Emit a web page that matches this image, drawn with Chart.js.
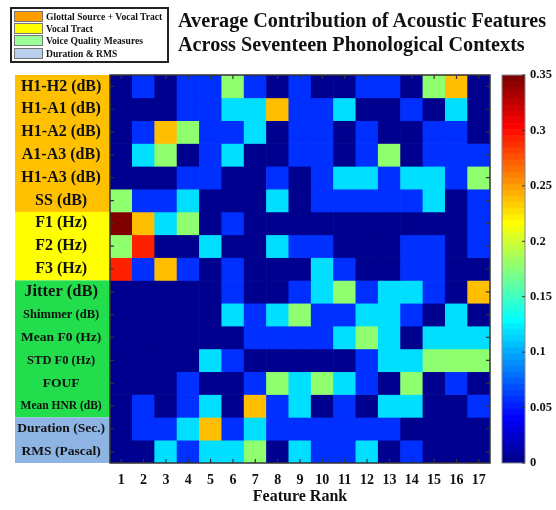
<!DOCTYPE html>
<html lang="en">
<head>
<meta charset="UTF-8">
<title>Average Contribution of Acoustic Features</title>
<script src="https://cdn.jsdelivr.net/npm/chart.js"></script>
<style>
  body { margin: 0; background: #fff; }
  #wrap { position: relative; width: 556px; height: 510px; font-family: "Liberation Serif", "Times New Roman", serif; color: #111; }
  canvas { position: absolute; top: 0; }
  #heat { left: 0; }
  #cbar { left: 490px; }
  #title { position: absolute; left: 178px; top: 8px; font-weight: bold; font-size: 20.2px; line-height: 24px; white-space: nowrap; z-index: 2; }
  #legend { position: absolute; left: 10px; top: 7px; width: 153px; height: 51px; border: 2px solid #222; padding: 1px 0 0 2px; z-index: 2; }
  #legend div { height: 12.4px; display: flex; align-items: center; font-weight: bold; font-size: 9.6px; white-space: nowrap; }
  #legend span { display: inline-block; width: 27px; height: 9px; border: 1px solid #777; margin-right: 3px; }
</style>
</head>
<body>
<div id="wrap">
  <div id="legend"></div>
  <div id="title">Average Contribution of Acoustic Features<br>Across Seventeen Phonological Contexts</div>
  <canvas id="heat" width="556" height="510"></canvas>
  <canvas id="cbar" width="66" height="510"></canvas>
</div>
<script>
// data: how many of the 17 contexts put each feature at each rank
const ranks = ['1','2','3','4','5','6','7','8','9','10','11','12','13','14','15','16','17'];
const features = ['H1-H2 (dB)', 'H1-A1 (dB)', 'H1-A2 (dB)', 'A1-A3 (dB)', 'H1-A3 (dB)', 'SS (dB)',
                  'F1 (Hz)', 'F2 (Hz)', 'F3 (Hz)',
                  'Jitter (dB)', 'Shimmer (dB)', 'Mean F0 (Hz)', 'STD F0 (Hz)', 'FOUF', 'Mean HNR (dB)',
                  'Duration (Sec.)', 'RMS (Pascal)'];
const contexts = 17;

const h1h2     = [0,1,0,1,1,3,1,0,1,0,0,1,1,0,3,4,0];
const h1a1     = [0,0,0,1,1,2,2,4,1,1,2,0,0,1,0,2,0];
const h1a2     = [0,1,4,3,1,1,2,0,1,1,0,1,0,0,1,1,0];
const a1a3     = [0,2,3,0,1,2,0,0,1,1,0,1,3,0,1,1,1];
const h1a3     = [0,0,0,1,1,0,0,1,0,1,2,2,1,2,2,1,3];
const ss       = [3,1,1,2,0,0,0,2,0,1,1,1,1,1,2,0,1];
const f1       = [6,4,2,3,0,1,0,0,0,0,0,0,0,0,0,0,1];
const f2       = [3,5,0,0,2,0,0,2,1,1,0,0,0,1,1,0,1];
const f3       = [5,1,4,1,0,1,0,0,0,2,1,0,0,1,1,0,0];
const jitter   = [0,0,0,0,0,1,0,0,1,2,3,1,2,2,1,0,4];
const shimmer  = [0,0,0,0,0,2,1,2,3,1,1,2,2,1,0,2,0];
const meanF0   = [0,0,0,0,0,0,1,1,1,1,2,3,2,0,2,2,2];
const stdF0    = [0,0,0,0,2,1,0,0,0,0,0,1,2,2,3,3,3];
const fouf     = [0,0,0,1,0,0,1,3,2,3,2,1,0,3,0,1,0];
const meanHNR  = [0,1,0,1,2,0,4,1,2,0,1,0,2,2,0,0,1];
const duration = [0,1,1,2,4,1,2,1,1,1,1,1,1,0,0,0,0];
const rms      = [0,0,2,1,2,2,3,0,2,1,1,2,0,1,0,0,0];
const counts = [h1h2, h1a1, h1a2, a1a3, h1a3, ss, f1, f2, f3, jitter, shimmer, meanF0, stdF0, fouf, meanHNR, duration, rms];

const groupNames = ['Glottal Source + Vocal Tract', 'Vocal Tract', 'Voice Quality Measures', 'Duration & RMS'];
const groupSizes = [6, 3, 6, 2];
const cbarTicks = [0, 0.05, 0.1, 0.15, 0.2, 0.25, 0.3, 0.35];
const cmax = 0.35;

// styles
const panelColors = ['#ffc000', '#ffff00', '#22dd4c', '#8eb4e3'];
const swatchColors = ['#ff9c00', '#ffff00', '#99ff99', '#b8d0ee'];
const labelSizes = [16,16,16,16,16,16,16,16,16,16.5,12.5,13.5,12.5,13.5,11.5,13.5,13.5];
const serif = '"Liberation Serif", "Times New Roman", serif';

// legend box
const legendEl = document.getElementById('legend');
groupNames.forEach((name, i) => {
    const row = document.createElement('div');
    row.innerHTML = '<span style="background:' + swatchColors[i] + '"></span>' + name.replace('&', '&amp;');
    legendEl.appendChild(row);
});

// matlab jet(64)
function jetU(i) {
    if (i >= 1 && i <= 16) return i / 16;
    if (i >= 17 && i <= 31) return 1;
    if (i >= 32 && i <= 47) return (48 - i) / 16;
    return 0;
}
function jetRow(k) {
    const r = Math.round(jetU(k - 24) * 255);
    const g = Math.round(jetU(k - 8) * 255);
    const b = Math.round(jetU(k + 8) * 255);
    return 'rgb(' + r + ',' + g + ',' + b + ')';
}
function jetColor(v) {
    const k = Math.min(64, Math.floor(v / cmax * 64) + 1);
    return jetRow(k);
}

const framePlugin = {
    id: 'frame',
    beforeDraw(chart) {
        // coloured panels behind the row labels
        const ctx = chart.ctx, y = chart.scales.y, area = chart.chartArea;
        let start = 0;
        groupSizes.forEach((n, g) => {
            const top = y.getPixelForValue(start + 0.5);
            const bot = y.getPixelForValue(start + n + 0.5);
            ctx.fillStyle = panelColors[g];
            ctx.fillRect(15, top, area.left - 15, bot - top);
            start += n;
        });
    },
    afterDatasetsDraw(chart) {
        const ctx = chart.ctx, area = chart.chartArea;
        const x = chart.scales.x, y = chart.scales.y;
        ctx.save();
        ctx.strokeStyle = '#333';
        ctx.lineWidth = 1.5;
        ctx.strokeRect(area.left, area.top, area.right - area.left, area.bottom - area.top);
        ctx.lineWidth = 1.2;
        ctx.beginPath();
        ranks.forEach((r, i) => {
            const px = x.getPixelForTick(i);
            ctx.moveTo(px, area.top); ctx.lineTo(px, area.top + 4);
            ctx.moveTo(px, area.bottom); ctx.lineTo(px, area.bottom - 4);
        });
        features.forEach((f, i) => {
            const py = y.getPixelForValue(i + 1);
            ctx.moveTo(area.left, py); ctx.lineTo(area.left + 4, py);
            ctx.moveTo(area.right, py); ctx.lineTo(area.right - 4, py);
        });
        ctx.stroke();
        ctx.restore();
    }
};

const heatChart = new Chart(document.getElementById('heat'), {
    type: 'bar',
    data: {
        labels: ranks,
        datasets: features.map((name, i) => ({
            label: name,
            data: ranks.map(() => [i + 0.5, i + 1.5]),
            backgroundColor: counts[i].map(c => jetColor(c / contexts)),
            borderWidth: 0
        }))
    },
    options: {
        responsive: false,
        animation: false,
        layout: { padding: { left: 15, top: 75, right: 66, bottom: 0 } },
        datasets: { bar: { grouped: false, barPercentage: 1, categoryPercentage: 1 } },
        plugins: { legend: { display: false }, tooltip: { enabled: false } },
        scales: {
            x: {
                type: 'category',
                grid: { display: false, drawTicks: false },
                border: { display: false },
                ticks: { color: '#111', padding: 9, font: { family: serif, size: 14, weight: 'bold' } },
                title: { display: true, text: 'Feature Rank', color: '#111', padding: { top: 0, bottom: 4 },
                         font: { family: serif, size: 16, weight: 'bold' } },
                afterFit(s) { s.height = 47; }
            },
            y: {
                type: 'linear',
                min: 0.5,
                max: 17.5,
                reverse: true,
                grid: { display: false, drawTicks: false },
                border: { display: false },
                afterBuildTicks(s) { s.ticks = features.map((f, i) => ({ value: i + 1 })); },
                ticks: {
                    color: '#111',
                    padding: 5,
                    crossAlign: 'center',
                    callback: v => features[v - 1],
                    font: ctx => ({ family: serif, size: labelSizes[ctx.index] || 14, weight: 'bold' })
                },
                afterFit(s) { s.width = 95; }
            }
        }
    },
    plugins: [framePlugin]
});

// colour bar
const levels = Array.from({ length: 64 }, (_, k) => k + 1);
const cbarFrame = {
    id: 'cbarFrame',
    afterDatasetsDraw(chart) {
        const ctx = chart.ctx, area = chart.chartArea, y = chart.scales.y;
        ctx.save();
        ctx.strokeStyle = '#888';
        ctx.lineWidth = 1;
        ctx.strokeRect(area.left, area.top, area.right - area.left, area.bottom - area.top);
        ctx.strokeStyle = '#333';
        ctx.beginPath();
        cbarTicks.forEach(t => {
            const py = y.getPixelForValue(t);
            ctx.moveTo(area.right, py); ctx.lineTo(area.right - 3, py);
        });
        ctx.stroke();
        ctx.restore();
    }
};

const cbarChart = new Chart(document.getElementById('cbar'), {
    type: 'bar',
    data: {
        labels: [''],
        datasets: levels.map(k => ({
            data: [[(k - 1) * cmax / 64, k * cmax / 64]],
            backgroundColor: jetRow(k),
            borderWidth: 0
        }))
    },
    options: {
        responsive: false,
        animation: false,
        layout: { padding: { left: 12, top: 75, right: 0, bottom: 47 } },
        datasets: { bar: { grouped: false, barPercentage: 1, categoryPercentage: 1 } },
        plugins: { legend: { display: false }, tooltip: { enabled: false } },
        scales: {
            x: { display: false },
            y: {
                position: 'right',
                min: 0,
                max: cmax,
                grid: { display: false, drawTicks: false },
                border: { display: false },
                afterBuildTicks(s) { s.ticks = cbarTicks.map(t => ({ value: t })); },
                ticks: { color: '#111', padding: 5, callback: v => String(v),
                         font: { family: serif, size: 12.5, weight: 'bold' } },
                afterFit(s) { s.width = 31; }
            }
        }
    },
    plugins: [cbarFrame]
});
</script>
</body>
</html>
